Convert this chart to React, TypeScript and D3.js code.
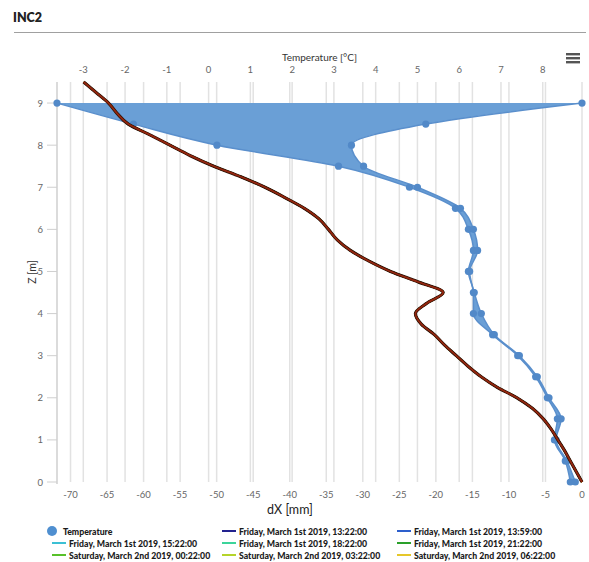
import React from "react";
import * as d3 from "d3";

// ---- data ----
const depthZ = [9, 8.5, 8, 7.5, 7, 6.5, 6, 5.5, 5, 4.5, 4, 3.5, 3, 2.5, 2, 1.5, 1, 0.5, 0];
const tempLow = [-3.63, -1.8, 0.2, 3.11, 4.81, 5.91, 6.22, 6.34, 6.22, 6.34, 6.34, 6.8, 7.4, 7.83, 8.11, 8.35, 8.28, 8.54, 8.66];
const tempHigh = [8.94, 5.2, 3.42, 3.71, 5.0, 6.03, 6.34, 6.44, 6.25, 6.36, 6.53, 6.84, 7.44, 7.87, 8.15, 8.44, 8.32, 8.58, 8.78];

const lineZ = [9.5, 9.25, 9, 8.75, 8.5, 8.25, 8, 7.75, 7.5, 7.25, 7, 6.75, 6.5, 6.25, 6, 5.75, 5.5, 5.25, 5, 4.75, 4.5, 4.25, 4, 3.75, 3.5, 3.25, 3, 2.75, 2.5, 2.25, 2, 1.75, 1.5, 1.25, 1, 0.75, 0.5, 0.25, 0];
const dxValues = [-68.2, -66.5, -64.8, -63.6, -62.1, -59.2, -56.4, -53.6, -50.4, -46.7, -43.4, -40.6, -38.0, -36.0, -34.7, -33.5, -31.7, -29.2, -26.2, -22.4, -19.0, -21.2, -22.8, -22.0, -20.2, -18.8, -17.2, -15.6, -13.8, -11.6, -8.9, -6.8, -5.3, -4.2, -3.3, -2.4, -1.6, -0.8, 0];

const seriesNames = [
  "Friday, March 1st 2019, 13:22:00",
  "Friday, March 1st 2019, 13:59:00",
  "Friday, March 1st 2019, 15:22:00",
  "Friday, March 1st 2019, 18:22:00",
  "Friday, March 1st 2019, 21:22:00",
  "Saturday, March 2nd 2019, 00:22:00",
  "Saturday, March 2nd 2019, 03:22:00",
  "Saturday, March 2nd 2019, 06:22:00",
  "Saturday, March 2nd 2019, 09:22:00",
  "Saturday, March 2nd 2019, 12:22:00",
];
const seriesColors = ["#22228f", "#2d5fcc", "#3cc0d4", "#3cd49a", "#2aa02a", "#58c12a", "#b5d42a", "#e6c72a", "#f09a30", "#94260f"];

const tempTicks = [-3, -2, -1, 0, 1, 2, 3, 4, 5, 6, 7, 8];
const dxTicks = [-70, -65, -60, -55, -50, -45, -40, -35, -30, -25, -20, -15, -10, -5, 0];
const zTicks = [0, 1, 2, 3, 4, 5, 6, 7, 8, 9];

const W = 589;
const H = 580;
const FONT = "Lato, 'Open Sans', sans-serif";

export default function App() {
  const left = 57, right = 582, top = 82, bottom = 482;
  const t = d3.scaleLinear().domain([-3.63, 8.94]).range([left, right]);
  const dx = d3.scaleLinear().domain([-71.85, 0]).range([left, right]);
  const z = d3.scaleLinear().domain([0, 9.5]).range([bottom, top]);

  const tempData = depthZ.map((d, i) => ({ z: d, lo: tempLow[i], hi: tempHigh[i] }));
  const area = d3
    .area<{ z: number; lo: number; hi: number }>()
    .y((d) => z(d.z))
    .x0((d) => t(d.lo))
    .x1((d) => t(d.hi))
    .curve(d3.curveMonotoneY);
  const loLine = d3
    .line<{ z: number; lo: number; hi: number }>()
    .y((d) => z(d.z))
    .x((d) => t(d.lo))
    .curve(d3.curveMonotoneY);
  const hiLine = d3
    .line<{ z: number; lo: number; hi: number }>()
    .y((d) => z(d.z))
    .x((d) => t(d.hi))
    .curve(d3.curveMonotoneY);

  const lineData = lineZ.map((d, i) => ({ z: d, v: dxValues[i] }));
  const dxLine = d3
    .line<{ z: number; v: number }>()
    .y((d) => z(d.z))
    .x((d) => dx(d.v))
    .curve(d3.curveMonotoneY);
  const linePath = dxLine(lineData) || "";

  const legendItems = [{ name: "Temperature", color: "#4f8fd0", circle: true }].concat(
    seriesNames.map((n, i) => ({ name: n, color: seriesColors[i], circle: false }))
  );
  const colX = [52, 222, 397];
  const rowY = [531, 543, 555, 566];

  return (
    <svg
      width={W}
      height={H}
      style={{ position: "absolute", left: 0, top: 0, background: "#fff" }}
      fontFamily={FONT}
    >
      <rect x={0} y={0} width={W} height={H} fill="#fff" />
      <text x={13} y={22} fontSize={12.5} fontWeight={800} fill="#222">
        INC2
      </text>
      <line x1={14} x2={586} y1={32.5} y2={32.5} stroke="#a0a0a0" strokeWidth={1} />

      {/* grid */}
      {tempTicks.map((v) => (
        <line key={"tg" + v} x1={t(v)} x2={t(v)} y1={top} y2={bottom} stroke="#e2e2e2" strokeWidth={1.5} />
      ))}
      {dxTicks.map((v) => (
        <line key={"dg" + v} x1={dx(v)} x2={dx(v)} y1={top} y2={bottom} stroke="#e2e2e2" strokeWidth={1.5} />
      ))}
      <line x1={left} x2={left} y1={top} y2={bottom + 2} stroke="#cfcfcf" strokeWidth={1.5} />

      {/* top axis */}
      <text x={(left + right) / 2} y={61} fontSize={10} fill="#333" textAnchor="middle">
        Temperature [°C]
      </text>
      {tempTicks.map((v) => (
        <text key={"tl" + v} x={t(v)} y={73} fontSize={9.5} fill="#666" textAnchor="middle">
          {v}
        </text>
      ))}

      {/* bottom axis */}
      {dxTicks.map((v) => (
        <text key={"dl" + v} x={dx(v)} y={498} fontSize={9.5} fill="#666" textAnchor="middle">
          {v}
        </text>
      ))}
      <text x={290} y={514} fontSize={12.5} fill="#222" textAnchor="middle">
        dX [mm]
      </text>

      {/* left axis */}
      {zTicks.map((v) => (
        <g key={"zl" + v}>
          <line x1={47} x2={left} y1={z(v)} y2={z(v)} stroke="#cfcfcf" strokeWidth={1} />
          <text x={43} y={z(v) + 3.5} fontSize={9.5} fill="#666" textAnchor="end">
            {v}
          </text>
        </g>
      ))}
      <text
        transform={`translate(${36},${272}) rotate(-90)`}
        fontSize={10.5}
        fill="#333"
        textAnchor="middle"
      >
        Z [m]
      </text>

      {/* temperature area range */}
      <path d={area(tempData) || ""} fill="#6a9fd6" stroke="none" />
      <path d={loLine(tempData) || ""} fill="none" stroke="#5a8fcc" strokeWidth={1.5} />
      <path d={hiLine(tempData) || ""} fill="none" stroke="#5a8fcc" strokeWidth={1.5} />
      {tempData.map((d, i) => (
        <g key={"td" + i}>
          <circle cx={t(d.lo)} cy={z(d.z)} r={3.6} fill="#5289c8" />
          <circle cx={t(d.hi)} cy={z(d.z)} r={3.6} fill="#5289c8" />
        </g>
      ))}

      {/* dX lines */}
      {seriesColors.map((c, i) => (
        <path key={"s" + i} d={linePath} fill="none" stroke={c} strokeWidth={2} />
      ))}
      <path d={linePath} fill="none" stroke="#2a1208" strokeWidth={3.2} />
      <path d={linePath} fill="none" stroke={seriesColors[9]} strokeWidth={1.8} />

      {/* menu icon */}
      {[0, 1, 2].map((k) => (
        <rect key={"m" + k} x={566} y={53 + k * 4} width={14} height={2.4} fill="#555" />
      ))}

      {/* legend */}
      {legendItems.map((it, i) => {
        const col = i % 3;
        const row = Math.floor(i / 3);
        const x = colX[col];
        const y = rowY[row];
        const tx = it.circle ? x + 11 : x + 17;
        return (
          <g key={"lg" + i}>
            {it.circle ? (
              <circle cx={x} cy={y} r={5} fill={it.color} />
            ) : (
              <line x1={x} x2={x + 14} y1={y} y2={y} stroke={it.color} strokeWidth={2} />
            )}
            <text
              transform={`translate(${tx},${y + 3.5}) scale(0.87,1)`}
              fontSize={10}
              fontWeight={900}
              fill="#1a1a1a"
            >
              {it.name}
            </text>
          </g>
        );
      })}
    </svg>
  );
}
